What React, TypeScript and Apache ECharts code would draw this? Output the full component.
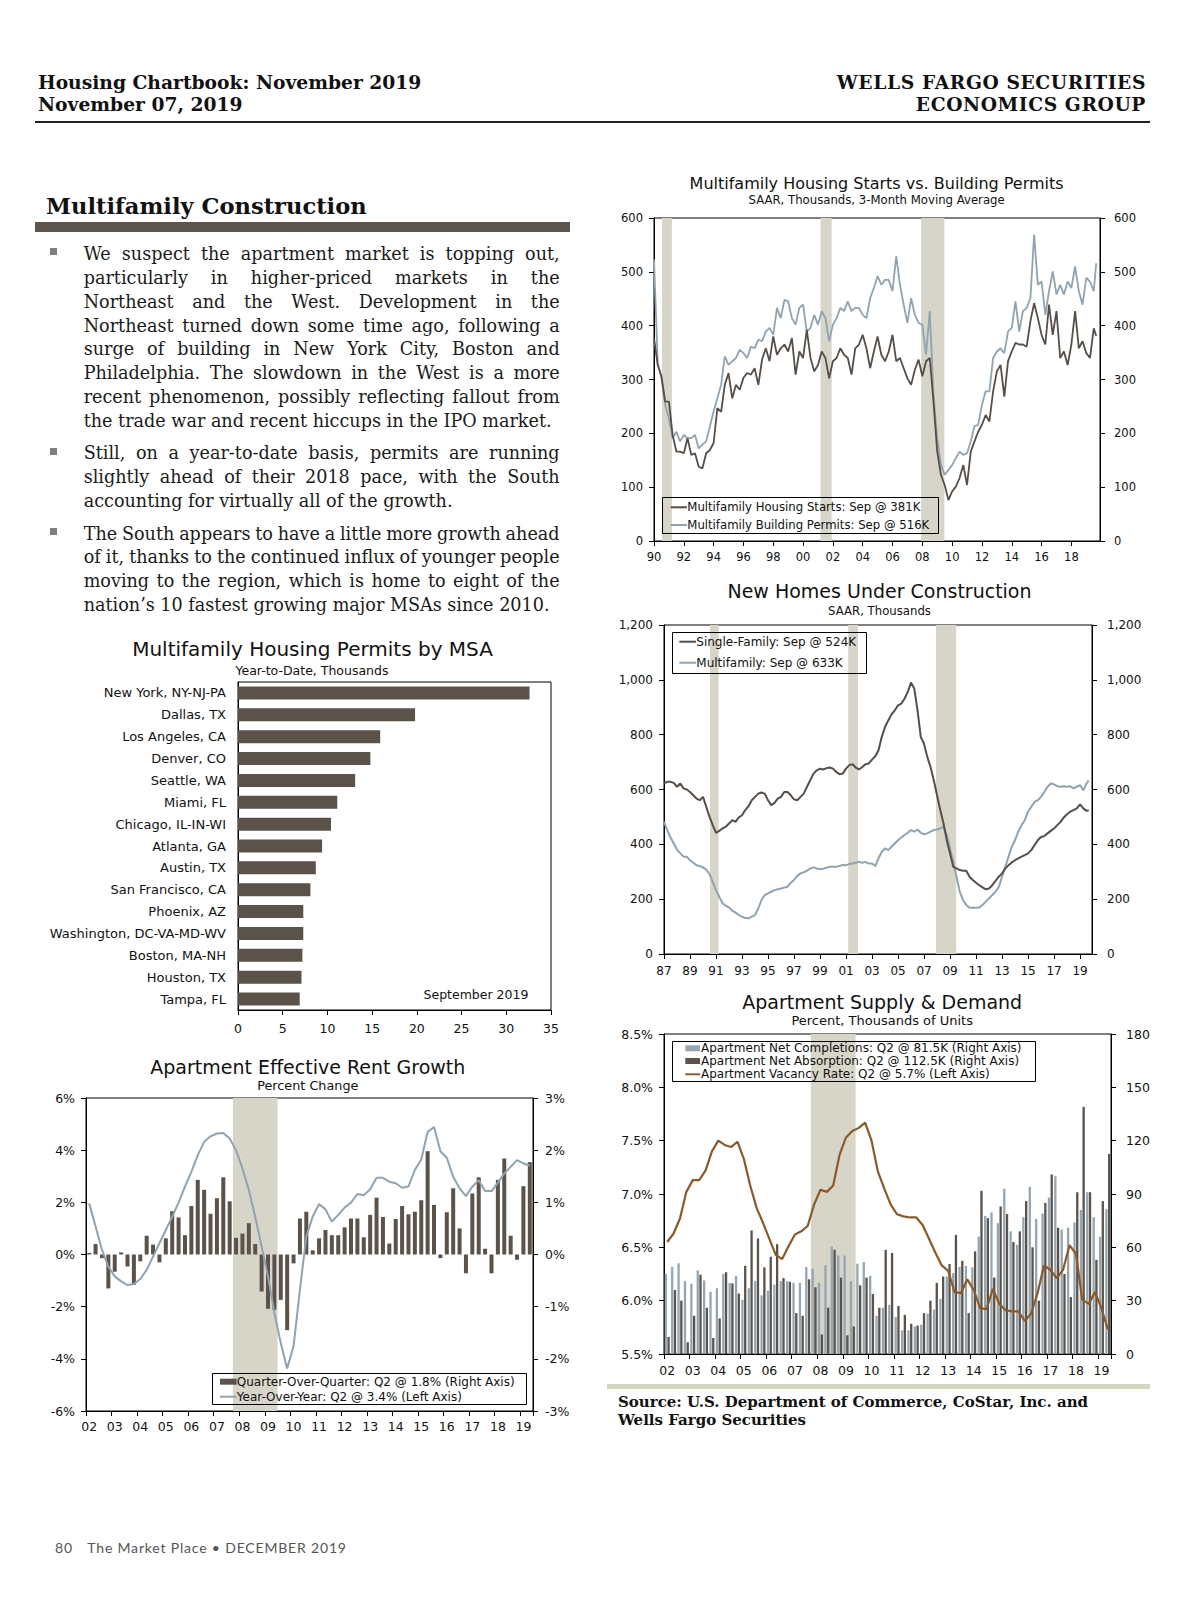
import React, { useEffect, useRef } from 'react';
import * as echarts from 'echarts';

// ---------------- DATA ----------------
// Multifamily Housing Permits by MSA (Year-to-Date, Thousands)
const msaNames = [
  'New York, NY-NJ-PA', 'Dallas, TX', 'Los Angeles, CA', 'Denver, CO', 'Seattle, WA',
  'Miami, FL', 'Chicago, IL-IN-WI', 'Atlanta, GA', 'Austin, TX', 'San Francisco, CA',
  'Phoenix, AZ', 'Washington, DC-VA-MD-WV', 'Boston, MA-NH', 'Houston, TX', 'Tampa, FL',
];
const msaPermits = [32.6, 19.8, 15.9, 14.8, 13.1, 11.1, 10.4, 9.4, 8.7, 8.1, 7.3, 7.3, 7.2, 7.1, 6.9];

// Quarterly categories 2002Q1 - 2019Q2
const quarters: string[] = [];
for (let y = 2002; y <= 2019; y++) {
  for (let q = 1; q <= 4; q++) {
    if (y === 2019 && q > 2) break;
    quarters.push(`${y}Q${q}`);
  }
}
const recessionQ = ['2007Q4', '2009Q2'];

// Apartment Effective Rent Growth
const rentQoQ = [
  0.03, 0.2, -0.07, -0.65,
  -0.33, 0.04, -0.23, -0.58,
  -0.13, 0.36, 0.19, -0.15,
  0.31, 0.83, 0.71, 0.37,
  0.93, 1.43, 1.24, 0.78,
  1.08, 1.48, 1.02, 0.32,
  0.40, 0.60, 0.20, -0.71,
  -1.04, -1.06, -0.87, -1.45,
  -0.17, 0.69, 0.82, 0.08,
  0.31, 0.47, 0.37, 0.37,
  0.52, 0.69, 0.69, 0.33,
  0.76, 1.09, 0.72, 0.21,
  0.68, 0.93, 0.77, 0.82,
  1.04, 1.98, 0.95, -0.07,
  0.81, 1.27, 0.50, -0.36,
  1.17, 1.48, 0.11, -0.36,
  1.43, 1.84, 0.36, -0.10,
  1.31, 1.77,
];
const rentYoY = [
  1.96, 1.07, 0.18, -0.46,
  -0.84, -1.03, -1.17, -1.13,
  -0.94, -0.59, -0.08, 0.43,
  0.94, 1.45, 1.99, 2.6,
  3.17, 3.81, 4.32, 4.53,
  4.64, 4.66, 4.45, 4.0,
  3.3, 2.47, 1.45, 0.31,
  -0.84, -2.24, -3.39, -4.37,
  -3.52, -1.35, 0.69, 1.45,
  1.94, 1.73, 1.26, 1.52,
  1.8, 1.99, 2.32, 2.27,
  2.5, 2.94, 2.94, 2.79,
  2.73, 2.56, 2.61, 3.24,
  3.64, 4.7, 4.89, 3.96,
  3.71, 2.98, 2.54, 2.24,
  2.6, 2.85, 2.43, 2.43,
  2.75, 3.11, 3.36, 3.62,
  3.49, 3.41,
];

// Multifamily Starts vs Permits, quarterly readings from Jan 1990 (Jan/Apr/Jul/Oct), then Sep 2019
const startsYear0 = 1990;
const startsQ = [
  377, 327, 306, 259, 259, 197, 166, 166, 163, 191, 160, 163, 138, 135, 163, 169,
  182, 247, 240, 290, 312, 265, 290, 281, 303, 312, 309, 321, 290, 337, 358, 334,
  380, 346, 358, 365, 352, 377, 309, 352, 340, 392, 340, 315, 327, 352, 340, 302,
  334, 340, 358, 346, 340, 309, 358, 365, 383, 358, 321, 352, 380, 346, 334, 352,
  383, 334, 340, 321, 302, 290, 318, 337, 306, 334, 340, 259, 166, 123, 104, 76,
  92, 101, 117, 141, 104, 166, 185, 203, 216, 234, 222, 278, 315, 327, 268, 334,
  352, 368, 365, 365, 361, 408, 442, 414, 383, 365, 439, 383, 427, 340, 352, 327,
  365, 427, 358, 371, 349, 340, 395,
];
const permitsQ = [
  523, 330, 303, 253, 228, 191, 203, 185, 197, 191, 191, 197, 172, 179, 185, 213,
  241, 265, 290, 343, 327, 334, 340, 355, 349, 340, 361, 358, 374, 371, 389, 396,
  383, 433, 414, 448, 445, 414, 402, 433, 439, 389, 396, 420, 402, 427, 414, 371,
  402, 414, 433, 427, 445, 427, 433, 433, 420, 414, 451, 470, 492, 476, 485, 485,
  464, 529, 476, 439, 405, 451, 420, 405, 402, 346, 427, 272, 191, 141, 123, 132,
  141, 154, 166, 160, 163, 185, 213, 216, 253, 278, 278, 340, 352, 358, 349, 389,
  396, 445, 389, 427, 433, 451, 569, 476, 482, 420, 464, 501, 458, 476, 458, 482,
  470, 510, 464, 439, 489, 482, 464,
];
const startsSep2019 = 381;
const permitsSep2019 = 516;

// New Homes Under Construction, quarterly from Jan 1987, then Sep 2019
const homesYear0 = 1987;
const singleFamilyQ = [
  622, 628, 628, 624, 610, 622, 604, 600, 591, 579, 567, 561, 573, 537, 500, 470,
  442, 449, 458, 464, 476, 488, 482, 498, 506, 525, 539, 561, 573, 585, 589, 585,
  561, 543, 551, 567, 573, 591, 591, 579, 564, 561, 573, 585, 610, 634, 658, 670,
  676, 673, 678, 680, 676, 664, 656, 658, 676, 689, 692, 680, 673, 682, 692, 695,
  709, 721, 743, 792, 828, 852, 874, 889, 907, 913, 931, 956, 990, 968, 889, 792,
  767, 719, 682, 634, 579, 525, 476, 415, 367, 318, 312, 306, 304, 304, 282, 270,
  260, 251, 243, 236, 239, 251, 267, 282, 294, 312, 324, 334, 342, 349, 355, 361,
  367, 379, 397, 415, 427, 430, 440, 449, 458, 470, 482, 498, 510, 519, 525, 531,
  546, 531, 522,
];
const multiFamilyQ = [
  482, 452, 425, 403, 381, 367, 355, 355, 342, 333, 324, 321, 316, 308, 291, 263,
  233, 209, 185, 176, 170, 158, 151, 142, 136, 131, 130, 136, 142, 166, 197, 215,
  221, 227, 233, 236, 239, 242, 245, 260, 270, 285, 294, 298, 304, 312, 316, 312,
  310, 311, 315, 318, 318, 318, 321, 325, 324, 328, 330, 333, 336, 333, 336, 330,
  330, 321, 349, 373, 385, 379, 391, 403, 415, 425, 434, 442, 452, 446, 454, 442,
  437, 440, 446, 452, 454, 458, 464, 434, 385, 336, 282, 227, 197, 179, 169, 169,
  169, 170, 179, 191, 203, 215, 227, 245, 282, 318, 355, 391, 415, 446, 470, 488,
  519, 537, 555, 561, 573, 591, 610, 622, 619, 612, 610, 612, 610, 612, 604, 610,
  616, 597, 622,
];
const singleFamilySep2019 = 524;
const multiFamilySep2019 = 633;

// NBER recessions (fractional years)
const recessions = [
  [1990.54, 1991.2],
  [2001.17, 2001.92],
  [2007.92, 2009.48],
];

// Apartment Supply & Demand (thousands of units; vacancy %)
const completions = [
  45, 49, 51, 41, 39.5, 47, 41.4, 35, 37, 45, 40, 44, 30.5, 37, 41, 33,
  35.6, 39, 41, 41, 40, 40, 49, 48, 40, 50, 60.5, 55.4, 55.4, 41, 50.8, 51.7,
  44, 21.5, 26, 27.7, 20.8, 13.3, 13.3, 15.5, 16.5, 22.7, 25, 31, 43.6, 45.5, 49, 49.6,
  48.7, 66, 77.7, 79.6, 73.6, 93, 69, 61.4, 77, 94, 76, 79, 88, 100, 70, 71,
  74, 81, 91, 77, 66, 81.5,
];
const absorption = [
  9.6, 36, 30, 6.6, 21.5, 44.6, 26, 9, 20, 46, 39.7, 34, 49.6, 69.5, 65, 48.7,
  54.7, 61.8, 42.7, 40.6, 23, 21.5, 42, 37.5, 11, 26, 58.6, 43, 10.5, 15.5, 38.6, 43,
  33.7, 26, 58.6, 56.8, 27, 22, 17, 16, 23, 30, 40, 43.6, 50.6, 67, 52.4, 23,
  57.7, 91.8, 76.4, 43, 83, 78.7, 63, 69, 86, 60, 30, 85, 101, 71, 45, 32,
  91, 139, 91, 53, 86, 112.5,
];
const vacancy = [
  6.55, 6.63, 6.77, 7.02, 7.13, 7.13, 7.22, 7.40, 7.50, 7.46, 7.44, 7.49, 7.33, 7.08, 6.87, 6.73,
  6.58, 6.43, 6.39, 6.51, 6.62, 6.65, 6.70, 6.90, 7.04, 7.02, 7.08, 7.37, 7.53, 7.59, 7.62, 7.67,
  7.50, 7.21, 7.05, 6.90, 6.81, 6.79, 6.78, 6.78, 6.71, 6.58, 6.45, 6.33, 6.28, 6.08, 6.07, 6.20,
  6.10, 5.93, 5.92, 6.11, 5.97, 5.91, 5.90, 5.90, 5.81, 5.88, 6.07, 6.33, 6.29, 6.21, 6.29, 6.52,
  6.44, 6.01, 5.97, 6.08, 5.93, 5.73,
];

// Text
const para1 = [
  'We suspect the apartment market is topping out,',
  'particularly in higher-priced markets in the',
  'Northeast and the West. Development in the',
  'Northeast turned down some time ago, following a',
  'surge of building in New York City, Boston and',
  'Philadelphia. The slowdown in the West is a more',
  'recent phenomenon, possibly reflecting fallout from',
  'the trade war and recent hiccups in the IPO market.',
];
const para2 = [
  'Still, on a year-to-date basis, permits are running',
  'slightly ahead of their 2018 pace, with the South',
  'accounting for virtually all of the growth.',
];
const para3 = [
  'The South appears to have a little more growth ahead',
  'of it, thanks to the continued influx of younger people',
  'moving to the region, which is home to eight of the',
  'nation\u2019s 10 fastest growing major MSAs since 2010.',
];

// ---------------- STYLE ----------------
const FONT = 'DejaVu Sans';
const BAR_DARK = '#5b5249';
const LINE_DARK = '#564e47';
const LINE_LIGHT = '#8fa3b1';
const BAR_LIGHT = '#93a6b4';
const SHADE = '#d7d4c8';
const VAC = '#8d5a26';
const TXT = '#111';

function yearFmt(y0: number) {
  return (v: number) => {
    if (Math.abs(v - Math.round(v)) > 1e-6) return '';
    const y = y0 + Math.round(v);
    return String(y % 100).padStart(2, '0');
  };
}
function commaFmt(v: number) {
  if (v >= 1000) return `${Math.floor(v / 1000)},${String(v % 1000).padStart(3, '0')}`;
  return String(v);
}
function quarterly(vals: number[], last: number, lastOffset: number) {
  const pts = vals.map((v, i) => [i * 0.25, v]);
  pts.push([lastOffset, last]);
  return pts;
}

function txt(x: number, y: number, text: string, size: number, align = 'center') {
  return {
    type: 'text', x, y, z: 100,
    style: {
      text, fill: TXT, font: `${size}px "${FONT}"`,
      textAlign: align, textVerticalAlign: 'middle',
    },
  };
}
function box(x: number, y: number, w: number, h: number) {
  return {
    type: 'rect', z: 100,
    shape: { x: Math.round(x) + 0.5, y: Math.round(y) + 0.5, width: Math.round(w), height: Math.round(h) },
    style: { fill: 'none', stroke: '#000', lineWidth: 1 },
  };
}
function lineIcon(x1: number, x2: number, y: number, color: string) {
  return { type: 'line', z: 100, shape: { x1, y1: y, x2, y2: y }, style: { stroke: color, lineWidth: 2 } };
}
function rectIcon(x: number, y: number, w: number, h: number, color: string) {
  return { type: 'rect', z: 100, shape: { x, y: y - h / 2, width: w, height: h }, style: { fill: color } };
}

const axisBase = {
  axisLine: { show: true, onZero: false, lineStyle: { color: '#000', width: 1 } },
  axisTick: { show: true, length: 5, lineStyle: { color: '#000', width: 1 } },
  splitLine: { show: false },
};
function lbl(size: number, margin: number, extra: any = {}) {
  return { color: TXT, fontSize: size, fontFamily: FONT, margin, ...extra };
}

function buildOption() {
  const gridBox = { show: true, borderColor: '#000', borderWidth: 1, backgroundColor: 'transparent' };
  const recStart = quarters.indexOf(recessionQ[0]);
  const recEnd = quarters.indexOf(recessionQ[1]) + 1;
  const yearly4 = (i: number) => i % 4 === 0;

  const graphic: any[] = [
    // titles
    txt(312.5, 649.3, 'Multifamily Housing Permits by MSA', 20),
    txt(312, 670.7, 'Year-to-Date, Thousands', 12.5),
    txt(528.4, 994, 'September 2019', 12.5, 'right'),
    txt(307.8, 1066.7, 'Apartment Effective Rent Growth', 19),
    txt(307.8, 1085.7, 'Percent Change', 12.8),
    txt(876.6, 183.3, 'Multifamily Housing Starts vs. Building Permits', 16),
    txt(876.6, 200, 'SAAR, Thousands, 3-Month Moving Average', 11.7),
    txt(879.5, 591, 'New Homes Under Construction', 19),
    txt(879.5, 610.7, 'SAAR, Thousands', 11.7),
    txt(882.2, 1002.3, 'Apartment Supply & Demand', 19),
    txt(882.2, 1020.7, 'Percent, Thousands of Units', 13),
    // legend: rent growth
    box(212.4, 1373, 313.6, 31),
    rectIcon(220, 1381.7, 16.6, 6, BAR_DARK),
    txt(236.8, 1381.7, 'Quarter-Over-Quarter: Q2 @ 1.8% (Right Axis)', 12, 'left'),
    lineIcon(220, 236.6, 1396.7, LINE_LIGHT),
    txt(236.8, 1396.7, 'Year-Over-Year: Q2 @ 3.4% (Left Axis)', 12, 'left'),
    // legend: starts vs permits
    box(662.3, 497.3, 275.7, 35.7),
    lineIcon(670.7, 686.9, 507.3, LINE_DARK),
    txt(687.3, 507.3, 'Multifamily Housing Starts: Sep @ 381K', 11.7, 'left'),
    lineIcon(670.7, 686.9, 525, LINE_LIGHT),
    txt(687.3, 525, 'Multifamily Building Permits: Sep @ 516K', 11.7, 'left'),
    // legend: new homes
    box(671.7, 631.7, 193.6, 40.6),
    lineIcon(679.3, 696, 641.7, LINE_DARK),
    txt(696.3, 641.7, 'Single-Family: Sep @ 524K', 12, 'left'),
    lineIcon(679.3, 696, 662.7, LINE_LIGHT),
    txt(696.3, 662.7, 'Multifamily: Sep @ 633K', 12, 'left'),
    // legend: supply & demand
    box(672.3, 1041, 363.4, 40),
    rectIcon(685.3, 1048.3, 14.7, 6, BAR_LIGHT),
    txt(701, 1048.3, 'Apartment Net Completions: Q2 @ 81.5K (Right Axis)', 12, 'left'),
    rectIcon(685.3, 1061, 14.7, 6, BAR_DARK),
    txt(701, 1061, 'Apartment Net Absorption: Q2 @ 112.5K (Right Axis)', 12, 'left'),
    lineIcon(685.3, 700, 1074.3, VAC),
    txt(701, 1074.3, 'Apartment Vacancy Rate: Q2 @ 5.7% (Left Axis)', 12, 'left'),
  ];

  const recAreaC = recessions.map(([a, b]) => [{ xAxis: a - startsYear0 }, { xAxis: b - startsYear0 }]);
  const recAreaD = recessions.map(([a, b]) => [{ xAxis: a - homesYear0 }, { xAxis: b - homesYear0 }]);
  const shadeStyle = { color: SHADE, opacity: 1, borderWidth: 0 };

  return {
    animation: false,
    textStyle: { fontFamily: FONT },
    graphic,
    grid: [
      { left: 238, top: 682, width: 313, height: 328, ...gridBox },
      { left: 86, top: 1098, width: 447, height: 313, ...gridBox },
      { left: 654, top: 218, width: 446, height: 323, ...gridBox },
      { left: 664, top: 625, width: 428, height: 329, ...gridBox },
      { left: 664, top: 1034, width: 447, height: 320, ...gridBox },
    ],
    xAxis: [
      { ...axisBase, type: 'value', gridIndex: 0, min: 0, max: 35, interval: 5, axisLabel: lbl(12.5, 12) },
      {
        ...axisBase, type: 'category', gridIndex: 1, data: quarters, boundaryGap: true,
        axisTick: { ...axisBase.axisTick, interval: yearly4 },
        axisLabel: lbl(12.5, 9, { interval: yearly4, formatter: (v: string) => v.slice(2, 4) }),
      },
      { ...axisBase, type: 'value', gridIndex: 2, min: 0, max: 29.92, interval: 2, axisLabel: lbl(11.5, 9.5, { formatter: yearFmt(startsYear0), showMaxLabel: false }) },
      { ...axisBase, type: 'value', gridIndex: 3, min: 0, max: 32.92, interval: 2, axisLabel: lbl(12, 11, { formatter: yearFmt(homesYear0), showMaxLabel: false }) },
      {
        ...axisBase, type: 'category', gridIndex: 4, data: quarters, boundaryGap: true,
        axisTick: { ...axisBase.axisTick, interval: yearly4 },
        axisLabel: lbl(12.5, 10, { interval: yearly4, formatter: (v: string) => v.slice(2, 4) }),
      },
      // hidden quarter-index axes for recession shading
      { type: 'value', gridIndex: 1, min: 0, max: quarters.length, show: false },
      { type: 'value', gridIndex: 4, min: 0, max: quarters.length, show: false },
    ],
    yAxis: [
      { ...axisBase, type: 'category', gridIndex: 0, data: msaNames, inverse: true, axisTick: { show: false }, axisLabel: lbl(13, 12) },
      { ...axisBase, type: 'value', gridIndex: 1, min: -6, max: 6, interval: 2, axisLabel: lbl(12.5, 11, { formatter: (v: number) => `${v}%` }) },
      { ...axisBase, type: 'value', gridIndex: 1, position: 'right', min: -3, max: 3, interval: 1, axisLabel: lbl(12.5, 12, { formatter: (v: number) => `${v}%` }) },
      { ...axisBase, type: 'value', gridIndex: 2, min: 0, max: 600, interval: 100, axisLabel: lbl(11.5, 11) },
      { ...axisBase, type: 'value', gridIndex: 2, position: 'right', min: 0, max: 600, interval: 100, axisLabel: lbl(11.5, 14) },
      { ...axisBase, type: 'value', gridIndex: 3, min: 0, max: 1200, interval: 200, axisLabel: lbl(12, 11, { formatter: commaFmt }) },
      { ...axisBase, type: 'value', gridIndex: 3, position: 'right', min: 0, max: 1200, interval: 200, axisLabel: lbl(12, 15, { formatter: commaFmt }) },
      { ...axisBase, type: 'value', gridIndex: 4, min: 5.5, max: 8.5, interval: 0.5, axisLabel: lbl(12.5, 11, { formatter: (v: number) => `${v.toFixed(1)}%` }) },
      { ...axisBase, type: 'value', gridIndex: 4, position: 'right', min: 0, max: 180, interval: 30, axisLabel: lbl(12.5, 15) },
    ],
    series: [
      // A: permits by MSA
      { type: 'bar', xAxisIndex: 0, yAxisIndex: 0, data: msaPermits, barWidth: 13, itemStyle: { color: BAR_DARK } },
      // B: rent growth
      {
        type: 'line', xAxisIndex: 5, yAxisIndex: 1, data: [[0, 0]], symbol: 'none', lineStyle: { opacity: 0 }, z: 1,
        markArea: { silent: true, itemStyle: shadeStyle, data: [[{ xAxis: recStart }, { xAxis: recEnd }]] },
      },
      { type: 'bar', xAxisIndex: 1, yAxisIndex: 2, data: rentQoQ, barWidth: 4, itemStyle: { color: BAR_DARK } },
      { type: 'line', xAxisIndex: 1, yAxisIndex: 1, data: rentYoY, symbol: 'none', lineStyle: { color: LINE_LIGHT, width: 2 } },
      // C: starts vs permits
      {
        type: 'line', xAxisIndex: 2, yAxisIndex: 3, data: quarterly(permitsQ, permitsSep2019, 29 + 8 / 12),
        symbol: 'none', lineStyle: { color: LINE_LIGHT, width: 1.8 },
        markArea: { silent: true, itemStyle: shadeStyle, data: recAreaC },
      },
      { type: 'line', xAxisIndex: 2, yAxisIndex: 3, data: quarterly(startsQ, startsSep2019, 29 + 8 / 12), symbol: 'none', lineStyle: { color: LINE_DARK, width: 1.8 } },
      // D: new homes under construction
      {
        type: 'line', xAxisIndex: 3, yAxisIndex: 5, data: quarterly(multiFamilyQ, multiFamilySep2019, 32 + 8 / 12),
        symbol: 'none', lineStyle: { color: LINE_LIGHT, width: 2 },
        markArea: { silent: true, itemStyle: shadeStyle, data: recAreaD },
      },
      { type: 'line', xAxisIndex: 3, yAxisIndex: 5, data: quarterly(singleFamilyQ, singleFamilySep2019, 32 + 8 / 12), symbol: 'none', lineStyle: { color: LINE_DARK, width: 2 } },
      // E: supply & demand
      {
        type: 'line', xAxisIndex: 6, yAxisIndex: 8, data: [[0, 0]], symbol: 'none', lineStyle: { opacity: 0 }, z: 1,
        markArea: { silent: true, itemStyle: shadeStyle, data: [[{ xAxis: recStart }, { xAxis: recEnd }]] },
      },
      { type: 'bar', xAxisIndex: 4, yAxisIndex: 8, data: completions, barWidth: 2.3, barGap: '20%', itemStyle: { color: BAR_LIGHT } },
      { type: 'bar', xAxisIndex: 4, yAxisIndex: 8, data: absorption, barWidth: 2.3, barGap: '20%', itemStyle: { color: BAR_DARK } },
      { type: 'line', xAxisIndex: 4, yAxisIndex: 7, data: vacancy, symbol: 'none', lineStyle: { color: VAC, width: 2.2 } },
    ],
  };
}

// ---------------- TEXT COMPONENTS ----------------
const SERIF = '"DejaVu Serif", Georgia, serif';
const BODY_SIZE = 17.6;
const LH = 23.9;
const TEXT_LEFT = 83.7;
const TEXT_W = 476;

function BodyLine({ text, center, justify }: { text: string; center: number; justify: boolean }) {
  const base: React.CSSProperties = {
    position: 'absolute', left: TEXT_LEFT, top: center - LH / 2, height: LH, lineHeight: `${LH}px`,
    fontFamily: SERIF, fontSize: BODY_SIZE, color: '#1a1a1a', whiteSpace: 'nowrap',
  };
  if (justify) {
    return (
      <div style={{ ...base, width: TEXT_W, display: 'flex', justifyContent: 'space-between' }}>
        {text.split(' ').map((w, i) => <span key={i}>{w}</span>)}
      </div>
    );
  }
  return <div style={base}>{text}</div>;
}

function Paragraph({ lines, first }: { lines: string[]; first: number }) {
  return (
    <>
      <div style={{ position: 'absolute', left: 50, top: first - 6.5, width: 7, height: 7, background: '#7f7f7f' }} />
      {lines.map((l, i) => (
        <BodyLine key={i} text={l} center={first + i * LH} justify={i < lines.length - 1} />
      ))}
    </>
  );
}

function Abs({ left, right, center, size, bold, children, family, color, ls }: any) {
  const lh = size * 1.25;
  const st: React.CSSProperties = {
    position: 'absolute', top: center - lh / 2, lineHeight: `${lh}px`, fontSize: size,
    fontFamily: family || SERIF, fontWeight: bold ? 'bold' : 'normal', color: color || '#111', whiteSpace: 'nowrap',
    letterSpacing: ls || 0,
  };
  if (left !== undefined) st.left = left;
  if (right !== undefined) { st.right = 1200 - right; st.textAlign = 'right'; }
  return <div style={st}>{children}</div>;
}

export default function App() {
  const ref = useRef<HTMLDivElement>(null);
  useEffect(() => {
    if (!ref.current) return;
    const chart = echarts.init(ref.current, null, { renderer: 'svg' });
    chart.setOption(buildOption() as any);
    return () => chart.dispose();
  }, []);

  return (
    <div style={{ position: 'absolute', left: 0, top: 0, width: 1200, height: 1606, background: '#fff', overflow: 'hidden' }}>
      {/* Header */}
      <Abs left={38} center={82.5} size={18.7} bold>Housing Chartbook: November 2019</Abs>
      <Abs left={38} center={104.5} size={18.7} bold>November 07, 2019</Abs>
      <Abs right={1146} center={82.5} size={18.7} bold ls={0.6}>WELLS FARGO SECURITIES</Abs>
      <Abs right={1146} center={104.5} size={18.7} bold ls={0.6}>ECONOMICS GROUP</Abs>
      <div style={{ position: 'absolute', left: 35, top: 121, width: 1115, height: 2, background: '#222' }} />

      {/* Section */}
      <Abs left={46} center={205.7} size={22.6} bold>Multifamily Construction</Abs>
      <div style={{ position: 'absolute', left: 35, top: 222, width: 535, height: 10, background: '#5e564e' }} />

      <Paragraph lines={para1} first={254.8} />
      <Paragraph lines={para2} first={454.3} />
      <Paragraph lines={para3} first={534.5} />

      {/* Source */}
      <div style={{ position: 'absolute', left: 607, top: 1384, width: 543, height: 5, background: '#d5d7bd' }} />
      <Abs left={618} center={1402} size={15} bold>Source: U.S. Department of Commerce, CoStar, Inc. and</Abs>
      <Abs left={618} center={1420} size={15} bold>Wells Fargo Securities</Abs>

      {/* Footer */}
      <Abs left={55} center={1547.7} size={14} family="Lato, sans-serif" color="#555" ls={0.8}>80</Abs>
      <Abs left={87.3} center={1547.7} size={14} family="Lato, sans-serif" color="#555" ls={0.82}>The Market Place • DECEMBER 2019</Abs>

      <div ref={ref} style={{ position: 'absolute', left: 0, top: 0, width: 1200, height: 1606 }} />
    </div>
  );
}
